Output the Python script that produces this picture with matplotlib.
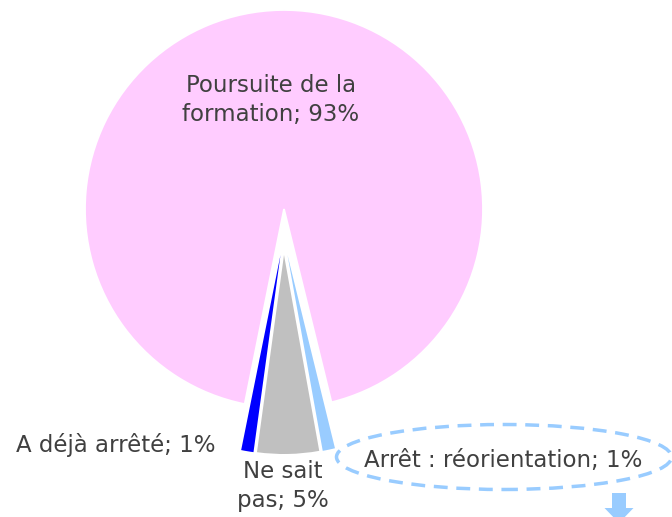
import matplotlib
matplotlib.use("Agg")
import matplotlib.pyplot as plt
from matplotlib.patches import Ellipse, FancyArrow

labels = ["Poursuite de la\nformation; 93%", "A déjà arrêté; 1%", "Ne sait\npas; 5%", "Arrêt : réorientation; 1%"]
values = [93, 1, 5, 1]
colors = ["#FFCCFF", "#0000FF", "#C0C0C0", "#99CCFF"]
# pixel offsets of each slice's centre (pulled-out slices)
offsets_px = [(0, 0), (-3.5, -46), (0, -46), (3.5, -46)]

plt.rcParams['font.family'] = ['DejaVu Sans']

W, H = 672, 517
cx, cy, R = 284, 209, 199
fig = plt.figure(figsize=(W / 100, H / 100), dpi=100)
ax = fig.add_axes([0, 0, 1, 1])

start = 283.8
wedges, _ = ax.pie(values, colors=colors, startangle=start, counterclock=True,
                   radius=1, center=(0, 0), frame=True,
                   wedgeprops=dict(edgecolor='white', linewidth=1.3))
for w, (ox, oy) in zip(wedges, offsets_px):
    if ox or oy:
        w.set_center((ox / R, oy / R))
        w.set_linewidth(0)
        w.set_zorder(3)

ax.set_xlim(-cx / R, (W - cx) / R)
ax.set_ylim(-(H - cy) / R, cy / R)
ax.set_aspect('auto')
ax.axis('off')

def p2d(px, py):
    return (px - cx) / R, (cy - py) / R

tc = '#404040'
fs = 16.5
positions = [(271, 100), (116, 445), (283, 486), (503, 461)]
for lab, (px, py) in zip(labels, positions):
    x, y = p2d(px, py)
    ax.text(x, y, lab, ha='center', va='center', fontsize=fs, color=tc, linespacing=1.3)

ex, ey = p2d(504, 457)
ax.add_patch(Ellipse((ex, ey), 335 / R, 65 / R, fill=False, edgecolor='#99CCFF',
                     linewidth=2.5, linestyle=(0, (4, 2.5))))

ax_, ay_ = p2d(619, 493)
ax.add_patch(FancyArrow(ax_, ay_, 0, -30 / R, width=14 / R, head_width=29 / R,
                        head_length=15 / R, length_includes_head=True,
                        color='#99CCFF', linewidth=0))

fig.savefig("out.png", dpi=100)
